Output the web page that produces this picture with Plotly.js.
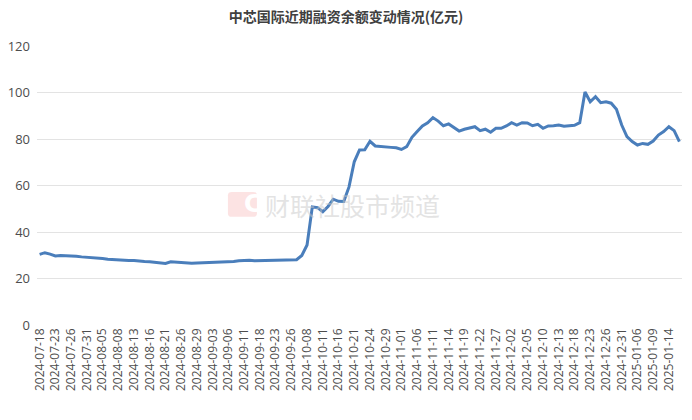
<!DOCTYPE html>
<html>
<head>
<meta charset="utf-8">
<script src="https://cdn.plot.ly/plotly-3.0.1.min.js"></script>
<style>
html,body{margin:0;padding:0;background:#fff;}
#chart{width:692px;height:420px;}
</style>
</head>
<body>
<div id="chart"></div>
<script>
const chartTitle = '中芯国际近期融资余额变动情况(亿元)';
const watermarkText = '财联社股市频道';

const dates = [
'2024-07-18','2024-07-19','2024-07-22','2024-07-23','2024-07-24','2024-07-25','2024-07-26','2024-07-29','2024-07-30','2024-07-31',
'2024-08-01','2024-08-02','2024-08-05','2024-08-06','2024-08-07','2024-08-08','2024-08-09','2024-08-12','2024-08-13','2024-08-14',
'2024-08-15','2024-08-16','2024-08-19','2024-08-20','2024-08-21','2024-08-22','2024-08-23','2024-08-26','2024-08-27','2024-08-28',
'2024-08-29','2024-08-30','2024-09-02','2024-09-03','2024-09-04','2024-09-05','2024-09-06','2024-09-09','2024-09-10','2024-09-11',
'2024-09-12','2024-09-13','2024-09-18','2024-09-19','2024-09-20','2024-09-23','2024-09-24','2024-09-25','2024-09-26','2024-09-27',
'2024-09-30','2024-10-08','2024-10-09','2024-10-10','2024-10-11','2024-10-14','2024-10-15','2024-10-16','2024-10-17','2024-10-18',
'2024-10-21','2024-10-22','2024-10-23','2024-10-24','2024-10-25','2024-10-28','2024-10-29','2024-10-30','2024-10-31','2024-11-01',
'2024-11-04','2024-11-05','2024-11-06','2024-11-07','2024-11-08','2024-11-11','2024-11-12','2024-11-13','2024-11-14','2024-11-15',
'2024-11-18','2024-11-19','2024-11-20','2024-11-21','2024-11-22','2024-11-25','2024-11-26','2024-11-27','2024-11-28','2024-11-29',
'2024-12-02','2024-12-03','2024-12-04','2024-12-05','2024-12-06','2024-12-09','2024-12-10','2024-12-11','2024-12-12','2024-12-13',
'2024-12-16','2024-12-17','2024-12-18','2024-12-19','2024-12-20','2024-12-23','2024-12-24','2024-12-25','2024-12-26','2024-12-27',
'2024-12-30','2024-12-31','2025-01-02','2025-01-03','2025-01-06','2025-01-07','2025-01-08','2025-01-09','2025-01-10','2025-01-13',
'2025-01-14','2025-01-15','2025-01-16'
];

const balance = [
30.4,31.1,30.5,29.7,29.9,29.9,29.6,29.6,29.3,29.2,
29.0,28.8,28.6,28.3,28.1,28.0,27.8,27.7,27.7,27.4,
27.3,27.2,27.0,26.7,26.5,27.2,27.0,26.8,26.7,26.6,
26.7,26.8,26.9,27.0,27.1,27.1,27.0,27.3,27.6,27.8,
27.8,27.6,27.7,27.6,27.7,27.8,27.9,28.0,28.0,28.1,
29.9,34.4,50.8,50.5,48.7,51.0,54.1,53.2,53.1,59.4,
70.2,75.3,75.4,79.0,77.0,76.7,76.5,76.4,76.2,75.5,
76.7,80.7,83.2,85.6,87.0,89.2,87.7,85.7,86.5,84.9,
83.4,84.2,84.6,85.3,83.6,84.2,82.9,84.6,84.6,85.6,
87.0,86.0,87.0,86.9,85.7,86.3,84.6,85.6,85.7,86.0,
85.5,85.6,85.9,87.0,100.2,96.0,98.2,95.6,96.0,95.4,
92.8,86.0,81.0,78.9,77.4,78.1,77.7,79.1,81.7,83.2,
85.3,83.6,78.9
];

const yTickVals = [0,20,40,60,80,100,120];
const tickDates = dates.filter((d,i) => i % 3 === 0);

const trace = {
  x: dates,
  y: balance,
  type: 'scatter',
  mode: 'lines',
  line: {color: '#4a7ebb', width: 3},
  hoverinfo: 'x+y'
};

const layout = {
  width: 692,
  height: 420,
  margin: {l: 37, r: 10, t: 46, b: 95},
  paper_bgcolor: '#ffffff',
  plot_bgcolor: '#ffffff',
  showlegend: false,
  title: {
    text: '<b>' + chartTitle + '</b>',
    x: 0.5, xanchor: 'center',
    y: 0.96, yanchor: 'middle',
    font: {family: 'Noto Sans CJK SC, sans-serif', size: 14, color: '#404040'}
  },
  xaxis: {
    type: 'category',
    range: [-0.5, dates.length - 0.5],
    tickmode: 'array',
    tickvals: tickDates,
    ticktext: tickDates,
    tickangle: -90,
    showgrid: false,
    zeroline: false,
    showline: false,
    ticks: '',
    tickfont: {family: 'Open Sans, sans-serif', size: 12, color: '#4d4d4d'}
  },
  yaxis: {
    range: [0, 120],
    tickmode: 'array',
    tickvals: yTickVals,
    showgrid: true,
    gridcolor: '#e3e3e3',
    gridwidth: 1,
    zeroline: false,
    showline: false,
    ticks: '',
    ticklabelstandoff: 6,
    tickfont: {family: 'Open Sans, sans-serif', size: 13, color: '#4d4d4d'}
  },
  shapes: [
    {
      type: 'path', xref: 'paper', yref: 'paper',
      path: 'M 0.302 0.388 L 0.335 0.388 Q 0.341 0.388 0.341 0.400 L 0.341 0.465 Q 0.341 0.477 0.335 0.477 L 0.302 0.477 Q 0.296 0.477 0.296 0.465 L 0.296 0.400 Q 0.296 0.388 0.302 0.388 Z',
      fillcolor: 'rgba(235,90,90,0.17)', line: {width: 0}, layer: 'below'
    }
  ],
  annotations: [
    {
      xref: 'paper', yref: 'paper', x: 0.3185, y: 0.4325,
      text: '<b>C</b>', showarrow: false,
      font: {family: 'DejaVu Sans, sans-serif', size: 24, color: 'rgba(255,255,255,1)'}
    },
    {
      xref: 'paper', yref: 'paper', x: 0.489, y: 0.43,
      text: watermarkText, showarrow: false,
      font: {family: 'Noto Sans CJK SC, sans-serif', size: 25, color: 'rgba(200,200,200,0.5)'}
    }
  ]
};

Plotly.newPlot('chart', [trace], layout, {displayModeBar: false, staticPlot: true});
</script>
</body>
</html>
